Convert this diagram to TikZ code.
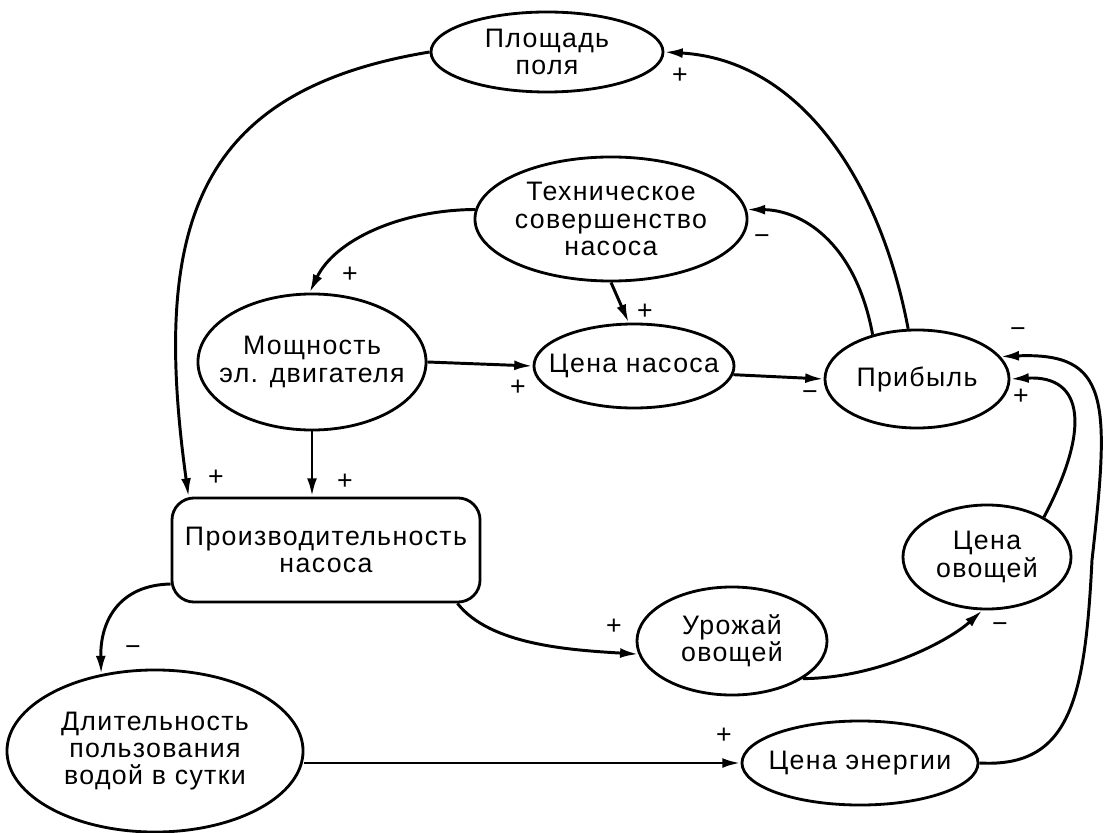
\documentclass[tikz,border=0pt]{standalone}
\usepackage{fontspec}
\setmainfont[LetterSpace=5]{Liberation Sans}
\usetikzlibrary{arrows.meta,shapes.geometric}

\tikzset{
  ellnode/.style={draw, ellipse, line width=2pt, inner xsep=-14pt, inner ysep=-9pt,
    align=center, font=\fontsize{19pt}{19.5pt}\selectfont},
  boxnode/.style={draw, rectangle, rounded corners=0.55cm, line width=2pt,
    align=center, font=\fontsize{19pt}{19.5pt}\selectfont},
  sign/.style={inner sep=0pt, font=\fontsize{19pt}{19pt}\selectfont},
  link/.style={line width=2.1pt, -{Latex[length=13pt,width=7pt]}}
}

\begin{document}
\begin{tikzpicture}[x=0.025cm, y=-0.025cm]
			%%%%% FRAME %%%%%
			\useasboundingbox (0,0) rectangle (1105,833);
			
			%%%%% NODES %%%%%
			\node[ellnode, minimum width=5.8cm, minimum height=2.0cm] (pl) at (547,52) {Площадь\\поля};
			\node[ellnode, minimum width=6.8cm, minimum height=3.1cm] (tech) at (611,219) {Техническое\\совершенство\\насоса};
			\node[ellnode, minimum width=5.7cm, minimum height=3.4cm] (mosh) at (312,362) {Мощность\\эл. двигателя};
			\node[ellnode, minimum width=5.0cm, minimum height=2.1cm] (cn) at (634,366) {Цена насоса};
			\node[ellnode, minimum width=4.6cm, minimum height=2.45cm] (prib) at (917,379) {Прибыль};
			\node[boxnode, minimum width=7.7cm, minimum height=2.6cm] (proizv) at (326,550) {Производительность\\насоса};
			\node[ellnode, minimum width=7.4cm, minimum height=4.05cm] (dlit) at (155,751) {Длительность\\пользования\\водой в сутки};
			\node[ellnode, minimum width=4.75cm, minimum height=2.7cm] (urozh) at (732,641) {Урожай\\овощей};
			\node[ellnode, minimum width=4.2cm, minimum height=2.6cm] (cov) at (987,557) {Цена\\овощей};
			\node[ellnode, minimum width=5.9cm, minimum height=2.1cm] (cen) at (860,763) {Цена энергии};
			
			%%%%% LINKS %%%%%
			\draw[link] (pl.west) .. controls (200,90) and (150,220) .. ([xshift=0.45cm]proizv.north west);
			\draw[link] (prib.100) .. controls (880,180) and (800,60) .. (pl.east);
			\draw[link] (prib.135) .. controls (855,240) and (800,210) .. (tech.4);
			\draw[link] (tech.176) .. controls (400,210) and (335,240) .. (mosh.92);
			\draw[link] (tech.south) -- (cn.97);
			\draw[link] (mosh.east) -- (cn.west);
			\draw[link] (cn.-5) -- (prib.west);
			\draw[link] (mosh.south) -- (mosh.south |- proizv.north);
			\draw[link] ([xshift=-0.6cm]proizv.south east) .. controls (490,645) and (570,650) .. (urozh.188);
			\draw[link] (urozh.-28) .. controls (880,678) and (950,640) .. (cov.265);
			\draw[link] (cov.35) .. controls (1090,430) and (1085,375) .. (prib.east);
			\draw[link] (cen.east) .. controls (1070,768) and (1085,700) .. (1092,560)
			  .. controls (1110,400) and (1110,352) .. (prib.15);
			\draw[link] ([yshift=-0.85cm]proizv.west) .. controls (120,585) and (100,620) .. (dlit.125);
			\draw[link] (dlit.east |- cen.west) -- (cen.west);
			
			%%%%% SIGNS %%%%%
			\node[sign] (sa) at (216,478) {+};
			\node[sign] (sb) at (680,76) {+};
			\node[sign] (sc) at (762,240) {−};
			\node[sign] (sd) at (350,275) {+};
			\node[sign] (se) at (645,312) {+};
			\node[sign] (sf) at (518,388) {+};
			\node[sign] (sg) at (810,396) {−};
			\node[sign] (sh) at (345,482) {+};
			\node[sign] (si) at (614,627) {+};
			\node[sign] (sj) at (1000,628) {−};
			\node[sign] (sk) at (1021,397) {+};
			\node[sign] (sl) at (1018,333) {−};
			\node[sign] (sm) at (133,651) {−};
			\node[sign] (sn) at (724,736) {+};
\end{tikzpicture}
\end{document}
